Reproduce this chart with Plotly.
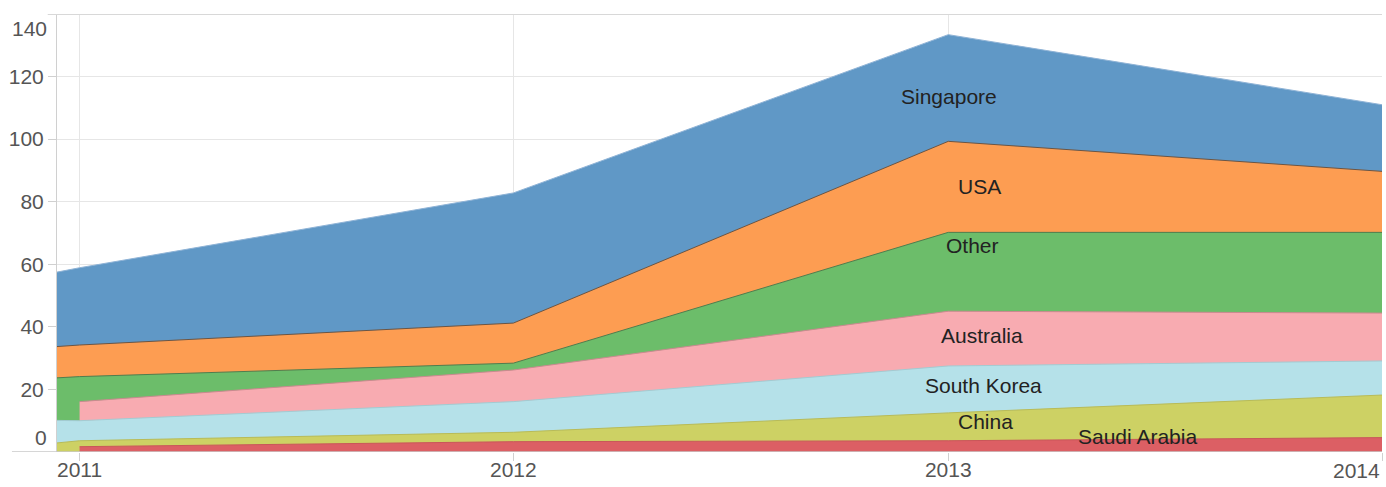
import plotly.graph_objects as go

# ---- data ----
dates = ["2010-12-13", "2011-01-01", "2012-01-01", "2013-01-01", "2014-01-01"]
series_names = ["Saudi Arabia", "China", "South Korea", "Australia", "Other", "USA", "Singapore"]
saudi_arabia = [None, 1.7, 3.3, 3.6, 4.6]
china = [2.9, 1.9, 3.0, 8.9, 13.6]
south_korea = [7.2, 6.4, 9.8, 15.0, 10.9]
australia = [None, 6.1, 10.1, 17.5, 15.3]
other = [13.6, 8.0, 2.2, 25.2, 25.8]
usa = [10.0, 10.1, 12.8, 29.1, 19.5]
singapore = [23.8, 24.7, 41.6, 34.1, 21.3]
values = [saudi_arabia, china, south_korea, australia, other, usa, singapore]

tick_years = ["2011-01-01", "2012-01-01", "2013-01-01", "2014-01-01"]
tick_labels = ["2011", "2012", "2013", ""]
y_ticks = [20, 40, 60, 80, 100, 120]

# label positions for the series names
label_x = ["2013-01-02", "2013-01-27", "2013-01-21", "2013-01-29", "2013-01-31", "2013-02-01", "2013-06-09"]
label_y = [113.6, 84.8, 65.9, 37.1, 21.1, 9.9, 4.8]
label_text = ["Singapore", "USA", "Other", "Australia", "South Korea", "China", "Saudi Arabia"]

colors = {
    "Saudi Arabia": "#dc5f64",
    "China": "#cdd164",
    "South Korea": "#b5e1e9",
    "Australia": "#f8abb1",
    "Other": "#6cbd6a",
    "USA": "#fd9d52",
    "Singapore": "#6098c6",
}
edge = {
    "Saudi Arabia": "#c9565a",
    "China": "#b8bb58",
    "South Korea": "#a3cbd2",
    "Australia": "#c98a8f",
    "Other": "#4f7d4e",
    "USA": "#6a5545",
    "Singapore": "#8fb3d6",
}

FONT = "Liberation Sans, Arial, sans-serif"

# cumulative tops (stacked from bottom)
tops = []
for i, name in enumerate(series_names):
    col = []
    for j in range(len(dates)):
        if values[i][j] is None:
            col.append(None)
        else:
            s = sum(values[k][j] for k in range(i + 1) if values[k][j] is not None)
            col.append(s)
    tops.append(col)

fig = go.Figure()
# draw from the top layer down, each filled to zero
for i in reversed(range(len(series_names))):
    name = series_names[i]
    xs = [d for d, v in zip(dates, tops[i]) if v is not None]
    ys = [v for v in tops[i] if v is not None]
    fig.add_trace(go.Scatter(
        x=xs, y=ys, mode="lines", name=name,
        fill="tozeroy", fillcolor=colors[name],
        line=dict(color=edge[name], width=1),
        showlegend=False, hoverinfo="x+y+name",
    ))

annotations = []
for tx, ty, tt in zip(label_x, label_y, label_text):
    annotations.append(dict(x=tx, y=ty, xref="x", yref="y", text=tt, showarrow=False,
                            font=dict(family=FONT, size=21, color="#222222")))
# edge tick labels
annotations.append(dict(x="2014-01-01", y=0, xref="x", yref="y", text="2014", showarrow=False,
                        xanchor="right", yanchor="top", yshift=-5,
                        font=dict(family=FONT, size=21, color="#555555")))
annotations.append(dict(x=0, y=0, xref="paper", yref="y", text="0", showarrow=False,
                        xanchor="right", yanchor="bottom", xshift=-8, yshift=1,
                        font=dict(family=FONT, size=21, color="#555555")))
annotations.append(dict(x=0, y=140, xref="paper", yref="y", text="140", showarrow=False,
                        xanchor="right", yanchor="top", xshift=-8, yshift=-1,
                        font=dict(family=FONT, size=21, color="#555555")))

fig.update_layout(
    width=1386, height=487,
    margin=dict(l=57, r=4, t=14, b=35),
    paper_bgcolor="white", plot_bgcolor="white",
    font=dict(family=FONT, size=21, color="#555555"),
    annotations=annotations,
    shapes=[
        dict(type="line", xref="paper", yref="y", x0=-0.034, x1=1, y0=0, y1=0,
             line=dict(color="#c8c8c8", width=1.5), layer="above"),
        dict(type="line", xref="paper", yref="y", x0=-0.007, x1=1, y0=140, y1=140,
             line=dict(color="#d8d8d8", width=2), layer="above"),
    ],
    xaxis=dict(
        type="date", range=["2010-12-13", "2014-01-01"],
        tickvals=tick_years, ticktext=tick_labels,
        showgrid=True, gridcolor="#e6e6e6", gridwidth=1,
        ticks="outside", ticklen=8, tickcolor="#d0d0d0",
        ticklabelstandoff=-9, automargin=False,
        showline=False, zeroline=False,
        layer="above traces",
        tickfont=dict(size=21, color="#555555"),
    ),
    yaxis=dict(
        range=[0, 140], tickvals=y_ticks, automargin=False,
        showgrid=True, gridcolor="#e6e6e6", gridwidth=1,
        ticks="outside", ticklen=8, tickcolor="#d0d0d0",
        showline=True, linecolor="#d0d0d0", linewidth=1,
        zeroline=False,
        tickfont=dict(size=21, color="#555555"),
    ),
)

fig.write_html("out.html", config={"displayModeBar": False},
               post_script="document.body.style.margin='0';document.body.style.overflow='hidden';")
